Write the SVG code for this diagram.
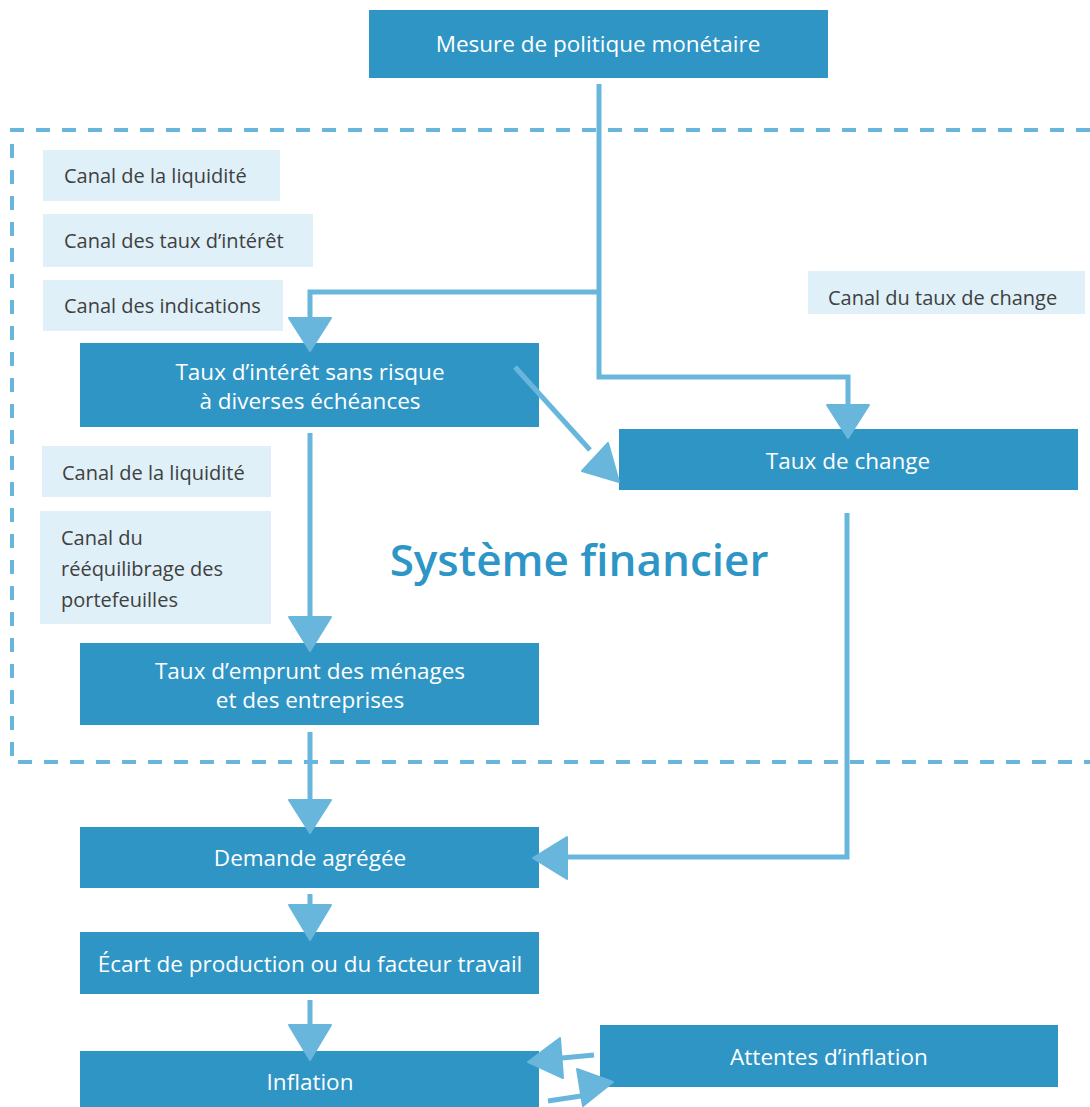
<svg xmlns="http://www.w3.org/2000/svg" width="1090" height="1107" viewBox="0 0 1090 1107">
<style>
.node{fill:#2e95c5}
.nt{fill:#ffffff;font-family:"Open Sans","Noto Sans",sans-serif;font-size:22.5px;text-anchor:middle}
.ch{fill:#dff0f8}
.ct{fill:#404040;font-family:"Open Sans","Noto Sans",sans-serif;font-size:20px}
.ln{fill:none;stroke:#68b6dc;stroke-width:5}
.ah{fill:#68b6dc;stroke:#68b6dc;stroke-width:2;stroke-linejoin:round}
.dash{fill:none;stroke:#68b6dc;stroke-width:4;stroke-dasharray:14 12}
</style>
<rect width="1090" height="1107" fill="#ffffff"/>
<g id="frame">
<path class="dash" d="M1090 130 H12 V762 H1090"/>
<text x="579" y="576" font-family="'Open Sans','Noto Sans',sans-serif" font-size="44" font-weight="600" fill="#2e96c6" text-anchor="middle">Système financier</text>
</g>
<g id="n-mesure"><rect class="node" x="369" y="10" width="459" height="68"/><text class="nt" x="598" y="52">Mesure de politique monétaire</text></g>
<g id="c-liq1"><rect class="ch" x="43" y="150" width="237" height="51"/><text class="ct" x="64" y="183">Canal de la liquidité</text></g>
<g id="c-taux"><rect class="ch" x="43" y="214" width="270" height="53"/><text class="ct" x="64" y="248">Canal des taux d’intérêt</text></g>
<g id="c-ind"><rect class="ch" x="43" y="280" width="240" height="51"/><text class="ct" x="64" y="313">Canal des indications</text></g>
<g id="c-change"><rect class="ch" x="808" y="271" width="277" height="43"/><text class="ct" x="828" y="305">Canal du taux de change</text></g>
<g id="n-tisr"><rect class="node" x="80" y="343" width="459" height="84"/><text class="nt" x="310" y="380">Taux d’intérêt sans risque</text><text class="nt" x="310" y="409">à diverses échéances</text></g>
<g id="n-change"><rect class="node" x="619" y="429" width="459" height="61"/><text class="nt" x="848" y="469">Taux de change</text></g>
<g id="c-liq2"><rect class="ch" x="42" y="446" width="229" height="51"/><text class="ct" x="62" y="480">Canal de la liquidité</text></g>
<g id="c-reeq"><rect class="ch" x="40" y="511" width="231" height="113"/><text class="ct" x="61" y="545">Canal du</text><text class="ct" x="61" y="576">rééquilibrage des</text><text class="ct" x="61" y="607">portefeuilles</text></g>
<g id="n-emprunt"><rect class="node" x="80" y="643" width="459" height="82"/><text class="nt" x="310" y="679">Taux d’emprunt des ménages</text><text class="nt" x="310" y="708">et des entreprises</text></g>
<g id="n-demande"><rect class="node" x="80" y="827" width="459" height="61"/><text class="nt" x="310" y="866">Demande agrégée</text></g>
<g id="n-ecart"><rect class="node" x="80" y="932" width="459" height="62"/><text class="nt" x="310" y="972">Écart de production ou du facteur travail</text></g>
<g id="n-inflation"><rect class="node" x="80" y="1051" width="459" height="60"/><text class="nt" x="310" y="1090">Inflation</text></g>
<g id="n-attentes"><rect class="node" x="600" y="1025" width="458" height="62"/><text class="nt" x="829" y="1065">Attentes d’inflation</text></g>
<g id="connectors">
<path class="ln" d="M599 84 V377 H848 V405"/>
<path class="ln" d="M599 292 H310 V318"/>
<polygon class="ah" points="289,318 331,318 310,351"/>
<polygon class="ah" points="827,405 869,405 848,438"/>
<path class="ln" d="M515 367 L590 450"/>
<polygon class="ah" points="582,471 608,443 619,482"/>
<path class="ln" d="M310 433 V617"/>
<polygon class="ah" points="289,617 331,617 310,651"/>
<path class="ln" d="M310 732 V800"/>
<polygon class="ah" points="289,800 331,800 310,833"/>
<path class="ln" d="M847 513 V857 H566"/>
<polygon class="ah" points="567,837 567,879 533,858"/>
<path class="ln" d="M310 894 V905"/>
<polygon class="ah" points="289,905 331,905 310,940"/>
<path class="ln" d="M310 1000 V1025"/>
<polygon class="ah" points="289,1025 331,1025 310,1060"/>
<path class="ln" d="M594 1055 L562 1058"/>
<polygon class="ah" points="560,1038 563,1078 528,1062"/>
<path class="ln" d="M548 1101 L581 1096"/>
<polygon class="ah" points="577,1069 583,1106 613,1082"/>
</g>
</svg>
